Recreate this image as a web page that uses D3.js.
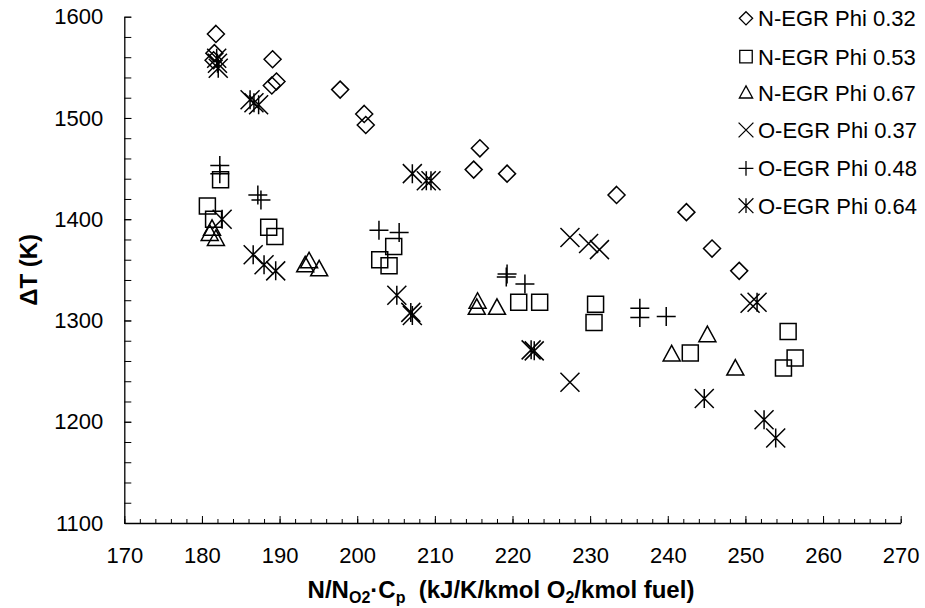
<!DOCTYPE html>
<html>
<head>
<meta charset="utf-8">
<script src="https://cdn.jsdelivr.net/npm/d3@7/dist/d3.min.js"></script>
<style>
  html, body { margin: 0; padding: 0; background: #fff; }
  svg { display: block; }
  text { font-family: "Liberation Sans", Arial, sans-serif; fill: #000; }
</style>
</head>
<body>
<svg id="chart" width="925" height="608"></svg>
<script>
// ---- data ----
const legendLabels = ["N-EGR Phi 0.32", "N-EGR Phi 0.53", "N-EGR Phi 0.67",
                      "O-EGR Phi 0.37", "O-EGR Phi 0.48", "O-EGR Phi 0.64"];
const xTickValues = [170, 180, 190, 200, 210, 220, 230, 240, 250, 260, 270];
const yTickValues = [1100, 1200, 1300, 1400, 1500, 1600];

// N-EGR Phi 0.32
const nEgr032X = [181.8, 181.6, 181.5, 189.1, 189.6, 189.0, 197.8, 200.9, 201.1, 215.8, 215.0, 219.3, 233.4, 242.4, 245.7, 249.2];
const nEgr032Y = [1583, 1564, 1557, 1558, 1536, 1532, 1528, 1504, 1493, 1470, 1449, 1445, 1424, 1407, 1371, 1349];
// N-EGR Phi 0.53
const nEgr053X = [182.4, 180.7, 181.5, 188.6, 189.4, 202.9, 204.7, 204.1, 220.8, 223.5, 230.7, 230.5, 255.5, 256.4, 254.9, 242.9];
const nEgr053Y = [1439, 1413, 1400, 1392, 1383, 1360, 1373, 1354, 1318, 1318, 1316, 1298, 1289, 1263, 1253, 1268];
// N-EGR Phi 0.67
const nEgr067X = [181.3, 181.0, 181.8, 193.8, 193.3, 195.1, 215.5, 215.4, 218.0, 240.5, 245.1, 248.7];
const nEgr067Y = [1390, 1385, 1380, 1358, 1354, 1350, 1318, 1312, 1312, 1266, 1285, 1252];
// O-EGR Phi 0.37
const oEgr037X = [227.4, 229.8, 231.2, 227.4, 250.6];
const oEgr037Y = [1382, 1376, 1370, 1239, 1317];
// O-EGR Phi 0.48
const oEgr048X = [182.3, 182.3, 187.2, 187.6, 202.8, 205.4, 219.3, 219.2, 221.6, 236.4, 236.4, 239.8];
const oEgr048Y = [1453, 1445, 1424, 1419, 1389, 1387, 1346, 1343, 1336, 1312, 1303, 1304];
// O-EGR Phi 0.64
const oEgr064X = [181.9, 182.0, 182.1, 186.2, 186.7, 187.3, 207.1, 208.9, 209.5, 182.6, 186.6, 188.0, 189.5, 205.1, 206.9, 207.1, 222.4, 222.8, 251.5, 244.7, 252.4, 253.9];
const oEgr064Y = [1559, 1554, 1549, 1518, 1515, 1513, 1445, 1438, 1438, 1400, 1365, 1355, 1349, 1325, 1308, 1305, 1271, 1270, 1318, 1223, 1202, 1184];

const shapes = ["diamond", "square", "triangle", "times", "plus", "asterisk"];
const seriesX = [nEgr032X, nEgr053X, nEgr067X, oEgr037X, oEgr048X, oEgr064X];
const seriesY = [nEgr032Y, nEgr053Y, nEgr067Y, oEgr037Y, oEgr048Y, oEgr064Y];

const series = legendLabels.map((name, i) => ({
  name, shape: shapes[i],
  points: seriesX[i].map((x, j) => ({ x, y: seriesY[i][j] }))
}));

// ---- layout ----
const W = 925, H = 608;
const margin = { left: 124.3, right: 24.3, top: 16.7, bottom: 85 };
const svg = d3.select("#chart");

const x = d3.scaleLinear().domain([170, 270]).range([margin.left, W - margin.right]);
const y = d3.scaleLinear().domain([1100, 1600]).range([H - margin.bottom, margin.top]);

// marker outline paths, centred on 0,0
function markerPath(shape, s) {
  const p = d3.path();
  if (shape === "diamond") {
    const h = 8.5 * s;
    p.moveTo(0, -h); p.lineTo(h, 0); p.lineTo(0, h); p.lineTo(-h, 0); p.closePath();
  } else if (shape === "square") {
    const h = 8 * s;
    p.rect(-h, -h, 2 * h, 2 * h);
  } else if (shape === "triangle") {
    p.moveTo(0, -9.5 * s); p.lineTo(8.5 * s, 6 * s); p.lineTo(-8.5 * s, 6 * s); p.closePath();
  } else if (shape === "times") {
    const h = 9.5 * s;
    p.moveTo(-h, -h); p.lineTo(h, h); p.moveTo(h, -h); p.lineTo(-h, h);
  } else if (shape === "plus") {
    const h = 9.5 * s;
    p.moveTo(-h, 0); p.lineTo(h, 0); p.moveTo(0, -h); p.lineTo(0, h);
  } else if (shape === "asterisk") {
    const h = 9.5 * s;
    p.moveTo(-h, -h); p.lineTo(h, h); p.moveTo(h, -h); p.lineTo(-h, h);
    p.moveTo(0, -h); p.lineTo(0, h);
  }
  return p.toString();
}

// ---- axes ----
const xAxisY = y(1100);
const xMinor = d3.range(170, 271, 2);
svg.append("g")
  .attr("transform", `translate(0,${xAxisY})`)
  .call(d3.axisBottom(x).tickValues(xMinor).tickSizeInner(-4).tickSizeOuter(0).tickFormat(""))
  .call(g => g.select(".domain").remove())
  .call(g => g.selectAll("line").attr("stroke", "#000").attr("stroke-width", 1));

svg.append("g")
  .attr("transform", `translate(0,${xAxisY})`)
  .call(d3.axisBottom(x).tickValues(xTickValues).tickSizeInner(-7).tickSizeOuter(0).tickPadding(24))
  .call(g => g.select(".domain").attr("stroke", "#000").attr("stroke-width", 1.3))
  .call(g => g.selectAll("line").attr("stroke", "#000").attr("stroke-width", 1))
  .call(g => g.selectAll("text").attr("font-size", 22).attr("font-family", "Liberation Sans, Arial, sans-serif"));

const yMinor = d3.range(1100, 1601, 20);
svg.append("g")
  .attr("transform", `translate(${x(170)},0)`)
  .call(d3.axisLeft(y).tickValues(yMinor).tickSizeInner(-7).tickSizeOuter(0).tickFormat(""))
  .call(g => g.select(".domain").remove())
  .call(g => g.selectAll("line").attr("stroke", "#000").attr("stroke-width", 1));

svg.append("g")
  .attr("transform", `translate(${x(170)},0)`)
  .call(d3.axisLeft(y).tickValues(yTickValues).tickSizeInner(-7).tickSizeOuter(0).tickPadding(21).tickFormat(d3.format("d")))
  .call(g => g.select(".domain").attr("stroke", "#000").attr("stroke-width", 1.3))
  .call(g => g.selectAll("line").attr("stroke", "#000").attr("stroke-width", 1))
  .call(g => g.selectAll("text").attr("font-size", 22).attr("font-family", "Liberation Sans, Arial, sans-serif"));

// ---- axis titles ----
const xTitle = svg.append("text")
  .attr("x", 501).attr("y", 598)
  .attr("text-anchor", "middle")
  .attr("font-size", 24).attr("font-weight", "bold")
  .style("white-space", "pre");
xTitle.append("tspan").text("N/N");
xTitle.append("tspan").attr("font-size", 16).attr("dy", 5).text("O2");
xTitle.append("tspan").attr("dy", -5).text("·C");
xTitle.append("tspan").attr("font-size", 16).attr("dy", 5).text("p");
xTitle.append("tspan").attr("dy", -5).text("  (kJ/K/kmol O");
xTitle.append("tspan").attr("font-size", 16).attr("dy", 5).text("2");
xTitle.append("tspan").attr("dy", -5).text("/kmol fuel)");

svg.append("text")
  .attr("transform", `translate(37,${(y(1100) + y(1600)) / 2}) rotate(-90)`)
  .attr("text-anchor", "middle")
  .attr("font-size", 24).attr("font-weight", "bold")
  .text("ΔT (K)");

// ---- markers ----
const plot = svg.append("g");
series.forEach(s => {
  plot.append("g").selectAll("path")
    .data(s.points)
    .join("path")
    .attr("transform", d => `translate(${x(d.x)},${y(d.y)})`)
    .attr("d", markerPath(s.shape, 1))
    .attr("fill", "none")
    .attr("stroke", "#000")
    .attr("stroke-width", 1.5);
});

// ---- legend ----
const legendY = [18.3, 56.7, 93.3, 130, 168.3, 205.7];
const legend = svg.append("g");
series.forEach((s, i) => {
  const row = legend.append("g").attr("transform", `translate(746,${legendY[i]})`);
  row.append("path")
    .attr("d", markerPath(s.shape, 0.78))
    .attr("fill", "none").attr("stroke", "#000").attr("stroke-width", 1.3);
  row.append("text")
    .attr("x", 12).attr("y", 0).attr("dy", "0.36em")
    .attr("font-size", 22)
    .text(s.name);
});
</script>
</body>
</html>
